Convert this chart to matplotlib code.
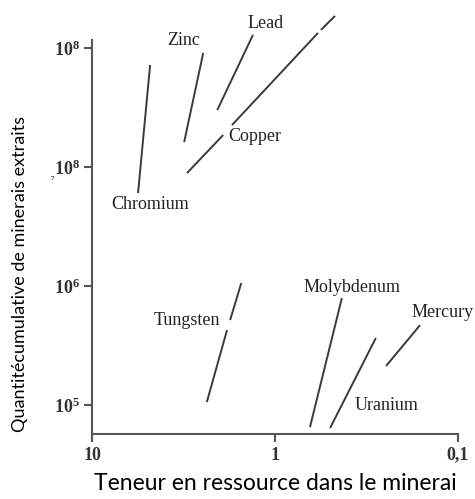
import matplotlib
matplotlib.use("Agg")
import matplotlib.pyplot as plt

# teneur (x) / quantité cumulée (y) aux extrémités de chaque segment
chromium_x = [5.61, 4.82]
chromium_y = [6.05e6, 7.2e7]
zinc_x = [3.14, 2.47]
zinc_y = [1.62e7, 9.08e7]
lead_x = [2.07, 1.32]
lead_y = [3.01e7, 1.29e8]
# cuivre : trois morceaux (coupures dans le trait)
copper_x = [[3.03, 1.92], [1.72, 0.582], [0.561, 0.47]]
copper_y = [[8.9e6, 1.86e7], [2.25e7, 1.34e8], [1.42e8, 1.86e8]]
tungsten_x = [[2.36, 1.83], [1.76, 1.53]]
tungsten_y = [[1.06e5, 4.27e5], [5.18e5, 1.06e6]]
molybdenum_x = [0.644, 0.431]
molybdenum_y = [6.53e4, 7.92e5]
uranium_x = [0.500, 0.281]
uranium_y = [6.41e4, 3.66e5]
mercury_x = [0.247, 0.161]
mercury_y = [2.13e5, 4.70e5]

# étiquettes (nom, x, y)
labels = ["Zinc", "Lead", "Copper", "Chromium", "Tungsten", "Molybdenum", "Mercury", "Uranium"]
label_x = [3.18, 1.13, 1.29, 4.82, 3.03, 0.379, 0.122, 0.247]
label_y = [1.15e8, 1.62e8, 1.79e7, 4.89e6, 5.18e5, 9.8e5, 6.05e5, 1.0e5]

x_ticks = [10, 1, 0.1]
x_ticklabels = ["10", "1", "0,1"]
y_ticks = [1e5, 1e6, 1e7, 1e8]
y_ticklabels = [r"$\mathbf{10^5}$", r"$\mathbf{10^6}$", r"$\mathbf{10^8}$", r"$\mathbf{10^8}$"]

plt.rcParams["mathtext.fontset"] = "custom"
plt.rcParams["mathtext.rm"] = "Liberation Serif"
plt.rcParams["mathtext.bf"] = "Liberation Serif:bold"

fig = plt.figure(figsize=(4.75, 4.99), dpi=100)
ax = fig.add_axes([0.194, 0.130, 0.770, 0.790])

line_kw = dict(color="#3a3a3a", lw=1.4, clip_on=False, solid_capstyle="butt")
ax.plot(chromium_x, chromium_y, **line_kw)
ax.plot(zinc_x, zinc_y, **line_kw)
ax.plot(lead_x, lead_y, **line_kw)
for xs, ys in zip(copper_x, copper_y):
    ax.plot(xs, ys, **line_kw)
for xs, ys in zip(tungsten_x, tungsten_y):
    ax.plot(xs, ys, **line_kw)
ax.plot(molybdenum_x, molybdenum_y, **line_kw)
ax.plot(uranium_x, uranium_y, **line_kw)
ax.plot(mercury_x, mercury_y, **line_kw)

for name, lx, ly in zip(labels, label_x, label_y):
    ax.text(lx, ly, name, ha="center", va="center", fontsize=13,
            family="Liberation Serif", color="#222222", clip_on=False)

ax.set_xscale("log")
ax.set_yscale("log")
ax.set_xlim(10, 0.1)
ax.set_ylim(5.7e4, 1.17e8)

ax.set_xticks(x_ticks)
ax.set_xticklabels(x_ticklabels, family="Liberation Serif", fontweight="bold", fontsize=13)
ax.set_yticks(y_ticks)
ax.set_yticklabels(y_ticklabels, fontsize=13)
ax.minorticks_off()
ax.tick_params(length=6, width=1.5, color="#555555", labelcolor="#333333", pad=3)

for s in ["top", "right"]:
    ax.spines[s].set_visible(False)
for s in ["left", "bottom"]:
    ax.spines[s].set_color("#555555")
    ax.spines[s].set_linewidth(1.5)

# petit "7" égaré sous le deuxième 10^8
fig.text(52 / 475, 1 - 178 / 499, "7", fontsize=5, family="Liberation Serif",
         fontweight="bold", color="#333333", ha="center", va="center")

fig.text(275 / 475, 1 - 484 / 499, "Teneur en ressource dans le minerai",
         fontsize=16.5, family="Lato", ha="center", va="center", color="black")
fig.text(20 / 475, 1 - 274 / 499, "Quantitécumulative de minerais extraits",
         fontsize=13, family="Lato", ha="center", va="center", rotation=90, color="black")

fig.savefig("out.png", dpi=100)
